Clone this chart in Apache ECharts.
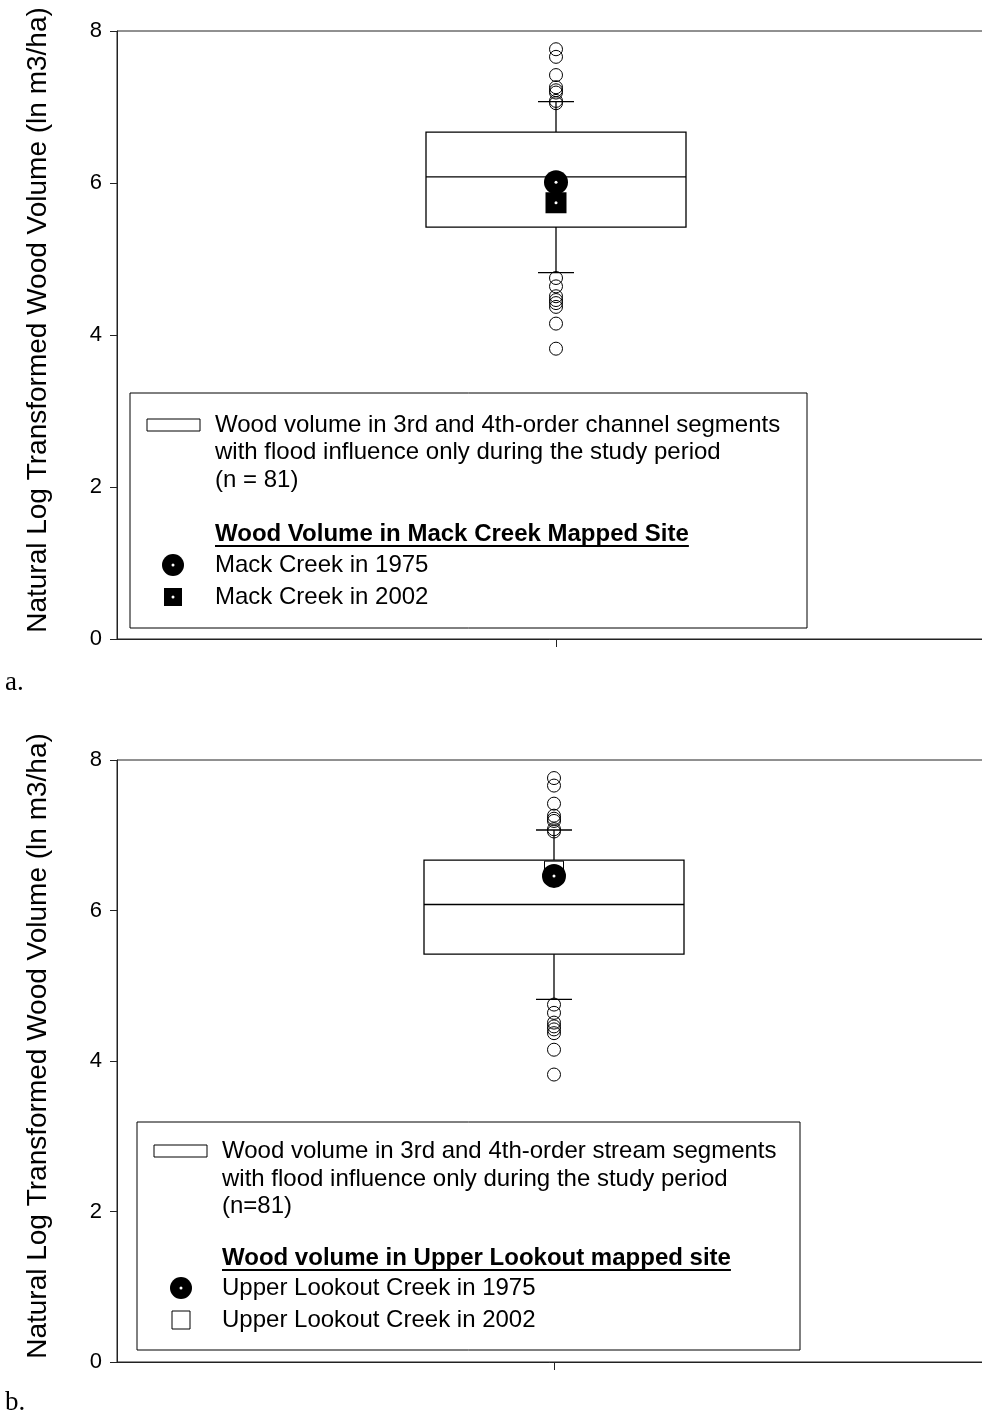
<!DOCTYPE html>
<html>
<head>
<meta charset="utf-8">
<script src="https://cdn.jsdelivr.net/npm/echarts@6/dist/echarts.min.js"></script>
<style>
html, body { margin: 0; padding: 0; background: #fff; }
#chart { width: 982px; height: 1414px; }
</style>
</head>
<body>
<div id="chart"></div>
<script>
// box: lower whisker, q1, median, q3, upper whisker (ln m3/ha), n = 81
let boxStats = [4.82, 5.42, 6.08, 6.67, 7.07];
let outliersHigh = [7.76, 7.66, 7.42, 7.26, 7.22, 7.19, 7.08, 7.05];
let outliersLow = [4.75, 4.64, 4.51, 4.46, 4.42, 4.37, 4.15, 3.82];
// mapped sites
let mack1975 = [6.01];
let mack2002 = [5.74];
let upper1975 = [6.46];
let upper2002 = [6.53];
let yTicks = [0, 2, 4, 6, 8];
let yName = 'Natural Log Transformed Wood Volume (ln m3/ha)';

let FONT = 'Liberation Sans, Arial, sans-serif';
let SERIF = 'Liberation Serif, Times New Roman, serif';

let ctx = document.createElement('canvas').getContext('2d');
function textWidth(str, font) {
    ctx.font = font;
    return ctx.measureText(str).width;
}

function pts(arr) {
    return arr.map(v => [0, v]);
}

// 箱线图（自绘，须短横线）
function renderBox(params, api) {
    let x = api.value(0);
    let p = [1, 2, 3, 4, 5].map(i => api.coord([x, api.value(i)]));
    let cx = p[0][0];
    let hw = 130, cw = 18;
    let style = { stroke: '#000', lineWidth: 1.3, fill: 'transparent' };
    return {
        type: 'group',
        children: [
            { type: 'rect', shape: { x: cx - hw, y: p[3][1], width: hw * 2, height: p[1][1] - p[3][1] }, style: style },
            { type: 'line', shape: { x1: cx - hw, y1: p[2][1], x2: cx + hw, y2: p[2][1] }, style: style },
            { type: 'line', shape: { x1: cx, y1: p[3][1], x2: cx, y2: p[4][1] }, style: style },
            { type: 'line', shape: { x1: cx, y1: p[1][1], x2: cx, y2: p[0][1] }, style: style },
            { type: 'line', shape: { x1: cx - cw, y1: p[4][1], x2: cx + cw, y2: p[4][1] }, style: style },
            { type: 'line', shape: { x1: cx - cw, y1: p[0][1], x2: cx + cw, y2: p[0][1] }, style: style }
        ]
    };
}

function panelSeries(idx, site1975, site2002, hollow2002) {
    let out = outliersHigh.concat(outliersLow);
    let list = [
        {
            type: 'custom',
            xAxisIndex: idx, yAxisIndex: idx,
            renderItem: renderBox,
            data: [[0].concat(boxStats)],
            z: 2
        },
        {
            type: 'scatter',
            xAxisIndex: idx, yAxisIndex: idx,
            symbol: 'circle', symbolSize: 13,
            itemStyle: { color: 'rgba(0,0,0,0)', borderColor: '#000', borderWidth: 1, opacity: 1 },
            data: pts(out),
            z: 3
        },
        {
            type: 'scatter',
            xAxisIndex: idx, yAxisIndex: idx,
            symbol: 'rect', symbolSize: hollow2002 ? 19 : 21,
            itemStyle: hollow2002
                ? { color: '#fff', borderColor: '#000', borderWidth: 1, opacity: 1 }
                : { color: '#000', opacity: 1 },
            data: pts(site2002),
            z: 4
        },
        {
            type: 'scatter',
            xAxisIndex: idx, yAxisIndex: idx,
            symbol: 'circle', symbolSize: 24,
            itemStyle: { color: '#000', opacity: 1 },
            data: pts(site1975),
            z: 5
        },
        {
            type: 'scatter',
            xAxisIndex: idx, yAxisIndex: idx,
            symbol: 'circle', symbolSize: 3,
            itemStyle: { color: '#fff', opacity: 1 },
            data: pts(hollow2002 ? site1975 : site1975.concat(site2002)),
            z: 6
        }
    ];
    return list;
}

function legendBox(b) {
    let g = [];
    let fs = 24;
    g.push({ type: 'rect', shape: { x: b.x, y: b.y, width: b.w, height: b.h }, style: { fill: '#fff', stroke: '#000', lineWidth: 1 }, z: 10 });
    g.push({ type: 'rect', shape: { x: b.sx - 27, y: b.lines[0] - 6, width: 53, height: 12 }, style: { fill: '#fff', stroke: '#000', lineWidth: 1 }, z: 11 });
    b.text.forEach((t, i) => {
        g.push({ type: 'text', x: b.tx, y: b.lines[i], style: { text: t, fontSize: fs, fontFamily: FONT, fill: '#000', verticalAlign: 'middle' }, z: 11 });
    });
    let hw = textWidth(b.heading, 'bold ' + fs + 'px ' + FONT);
    g.push({ type: 'text', x: b.tx, y: b.headY, style: { text: b.heading, fontSize: fs, fontWeight: 'bold', fontFamily: FONT, fill: '#000', verticalAlign: 'middle' }, z: 11 });
    g.push({ type: 'line', shape: { x1: b.tx, y1: b.headY + 12, x2: b.tx + hw, y2: b.headY + 12 }, style: { stroke: '#000', lineWidth: 2 }, z: 11 });
    // 1975 circle
    g.push({ type: 'circle', shape: { cx: b.mx, cy: b.items[0], r: 11 }, style: { fill: '#000' }, z: 11 });
    g.push({ type: 'circle', shape: { cx: b.mx, cy: b.items[0], r: 1.5 }, style: { fill: '#fff' }, z: 12 });
    // 2002 square
    if (b.hollow) {
        g.push({ type: 'rect', shape: { x: b.mx - 9, y: b.items[1] - 9, width: 18, height: 18 }, style: { fill: '#fff', stroke: '#000', lineWidth: 1 }, z: 11 });
    } else {
        g.push({ type: 'rect', shape: { x: b.mx - 9, y: b.items[1] - 9, width: 18, height: 18 }, style: { fill: '#000' }, z: 11 });
        g.push({ type: 'circle', shape: { cx: b.mx, cy: b.items[1], r: 1.5 }, style: { fill: '#fff' }, z: 12 });
    }
    b.itemText.forEach((t, i) => {
        g.push({ type: 'text', x: b.tx, y: b.items[i], style: { text: t, fontSize: fs, fontFamily: FONT, fill: '#000', verticalAlign: 'middle' }, z: 11 });
    });
    return g;
}

let graphic = [].concat(
    legendBox({
        x: 130, y: 393, w: 677, h: 235,
        sx: 174, tx: 215, mx: 173,
        lines: [425, 452, 480],
        text: ['Wood volume in 3rd and 4th-order channel segments', 'with flood influence only during the study period', '(n = 81)'],
        heading: 'Wood Volume in Mack Creek Mapped Site', headY: 534,
        items: [565, 597],
        itemText: ['Mack Creek in 1975', 'Mack Creek in 2002'],
        hollow: false
    }),
    legendBox({
        x: 137, y: 1122, w: 663, h: 228,
        sx: 181, tx: 222, mx: 181,
        lines: [1151, 1179, 1206],
        text: ['Wood volume in 3rd and 4th-order stream segments', 'with flood influence only during the study period', '(n=81)'],
        heading: 'Wood volume in Upper Lookout mapped site', headY: 1258,
        items: [1288, 1320],
        itemText: ['Upper Lookout Creek in 1975', 'Upper Lookout Creek in 2002'],
        hollow: true
    }),
    [
        { type: 'text', x: 5, y: 683, style: { text: 'a.', fontSize: 27, fontFamily: SERIF, fill: '#000', verticalAlign: 'middle' } },
        { type: 'text', x: 5, y: 1403, style: { text: 'b.', fontSize: 27, fontFamily: SERIF, fill: '#000', verticalAlign: 'middle' } }
    ]
);

function yAxis(idx) {
    return {
        type: 'value',
        gridIndex: idx,
        min: yTicks[0], max: yTicks[yTicks.length - 1], interval: 2,
        name: yName,
        nameLocation: 'middle',
        nameRotate: 90,
        nameGap: 65,
        nameTextStyle: { fontSize: 28, fontFamily: FONT, color: '#000', padding: [0, 0, 0, 30] },
        axisLine: { show: true, lineStyle: { color: '#222', width: 1 } },
        axisTick: { show: true, length: 7, lineStyle: { color: '#222' } },
        axisLabel: { fontSize: 22, fontFamily: FONT, color: '#000', margin: 15 },
        splitLine: { show: false }
    };
}

function xAxis(idx) {
    return {
        type: 'category',
        gridIndex: idx,
        data: [''],
        axisLine: { show: true, lineStyle: { color: '#222', width: 1 } },
        axisTick: { show: true, alignWithLabel: true, length: 8, lineStyle: { color: '#222' } },
        axisLabel: { show: false },
        splitLine: { show: false }
    };
}

let myChart = echarts.init(document.getElementById('chart'));
myChart.setOption({
    animation: false,
    backgroundColor: '#fff',
    grid: [
        { left: 117, top: 31, width: 878, height: 608, show: true, borderColor: '#222', borderWidth: 1, outerBoundsMode: 'none' },
        { left: 117, top: 760, width: 874, height: 602, show: true, borderColor: '#222', borderWidth: 1, outerBoundsMode: 'none' }
    ],
    xAxis: [xAxis(0), xAxis(1)],
    yAxis: [yAxis(0), yAxis(1)],
    series: panelSeries(0, mack1975, mack2002, false).concat(panelSeries(1, upper1975, upper2002, true)),
    graphic: graphic
});
</script>
</body>
</html>
